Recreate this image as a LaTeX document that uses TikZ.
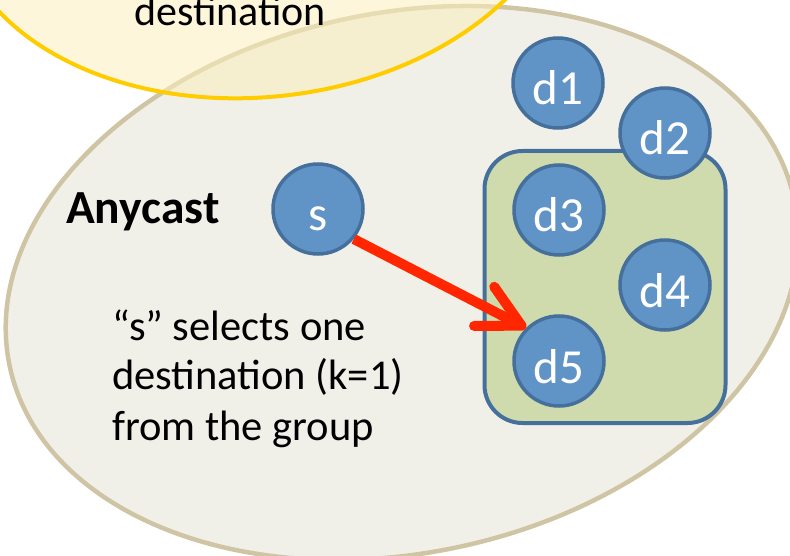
\documentclass[tikz,border=0pt]{standalone}
\usepackage{fontspec}
\setmainfont{Carlito}
\usetikzlibrary{arrows.meta}
\definecolor{nodefill}{RGB}{96,148,198}
\definecolor{nodeedge}{RGB}{70,112,156}
\definecolor{grpfill}{RGB}{207,219,173}
\definecolor{anyfill}{RGB}{241,240,232}
\definecolor{anyedge}{RGB}{207,197,165}
\definecolor{bcfill}{RGB}{251,239,188}
\definecolor{bcedge}{RGB}{255,204,0}
\definecolor{pathred}{RGB}{255,38,0}
\begin{document}
\begin{tikzpicture}[x=1pt,y=-1pt,
  dest/.style={circle,draw=nodeedge,fill=nodefill,line width=3.5pt,
    minimum size=90pt,inner sep=0pt,text=white,
    text height=44pt,text depth=0pt,font=\fontsize{49}{52}\selectfont},
  grpbox/.style={draw=nodeedge,fill=grpfill,line width=4pt,
    rounded corners=38pt,minimum width=241pt,minimum height=272pt,inner sep=0pt},
  body/.style={anchor=base west,inner sep=0pt,font=\fontsize{42.5}{50}\selectfont},
  pick/.style={draw=pathred,line width=10pt,
    -{Straight Barb[length=42pt,width=44pt,round]}}]
\useasboundingbox (0,0) rectangle (790,556);

% anycast region
\draw[draw=anyedge,fill=anyfill,line width=4.5pt,rotate around={12:(402,283)}]
  (402,283) ellipse [x radius=401pt,y radius=270pt];

% neighbouring (broadcast) region, partly off the top edge
\draw[draw=bcedge,fill=bcfill,fill opacity=0.55,line width=4pt,rotate around={6:(260,-115)}]
  (260,-115) ellipse [x radius=308pt,y radius=212pt];
\node[anchor=base,inner sep=0pt,font=\fontsize{42}{50}\selectfont] (bctext) at (230,26) {destination};

% labels
\node[anchor=base west,inner sep=0pt,font=\fontsize{47.5}{50}\selectfont\bfseries] (title) at (66,224) {Anycast};
\node[body] (l1) at (112,340) {“s” selects one};
\node[body] (l2) at (112,389) {destination (k=1)};
\node[body] (l3) at (112,440) {from the group};

% anycast group
\node[grpbox] (grp) at (605,287) {};

% hosts
\node[dest] (d1) at (558,83) {d1};
\node[dest] (d2) at (665,133) {d2};
\node[dest] (d3) at (559,210) {d3};
\node[dest] (d4) at (665,285) {d4};
\node[dest] (d5) at (559,361) {d5};
\node[dest] (s) at (318,209) {s};

% selected delivery
\draw[pick] (s.-40) -- (d5.135);
\end{tikzpicture}
\end{document}
